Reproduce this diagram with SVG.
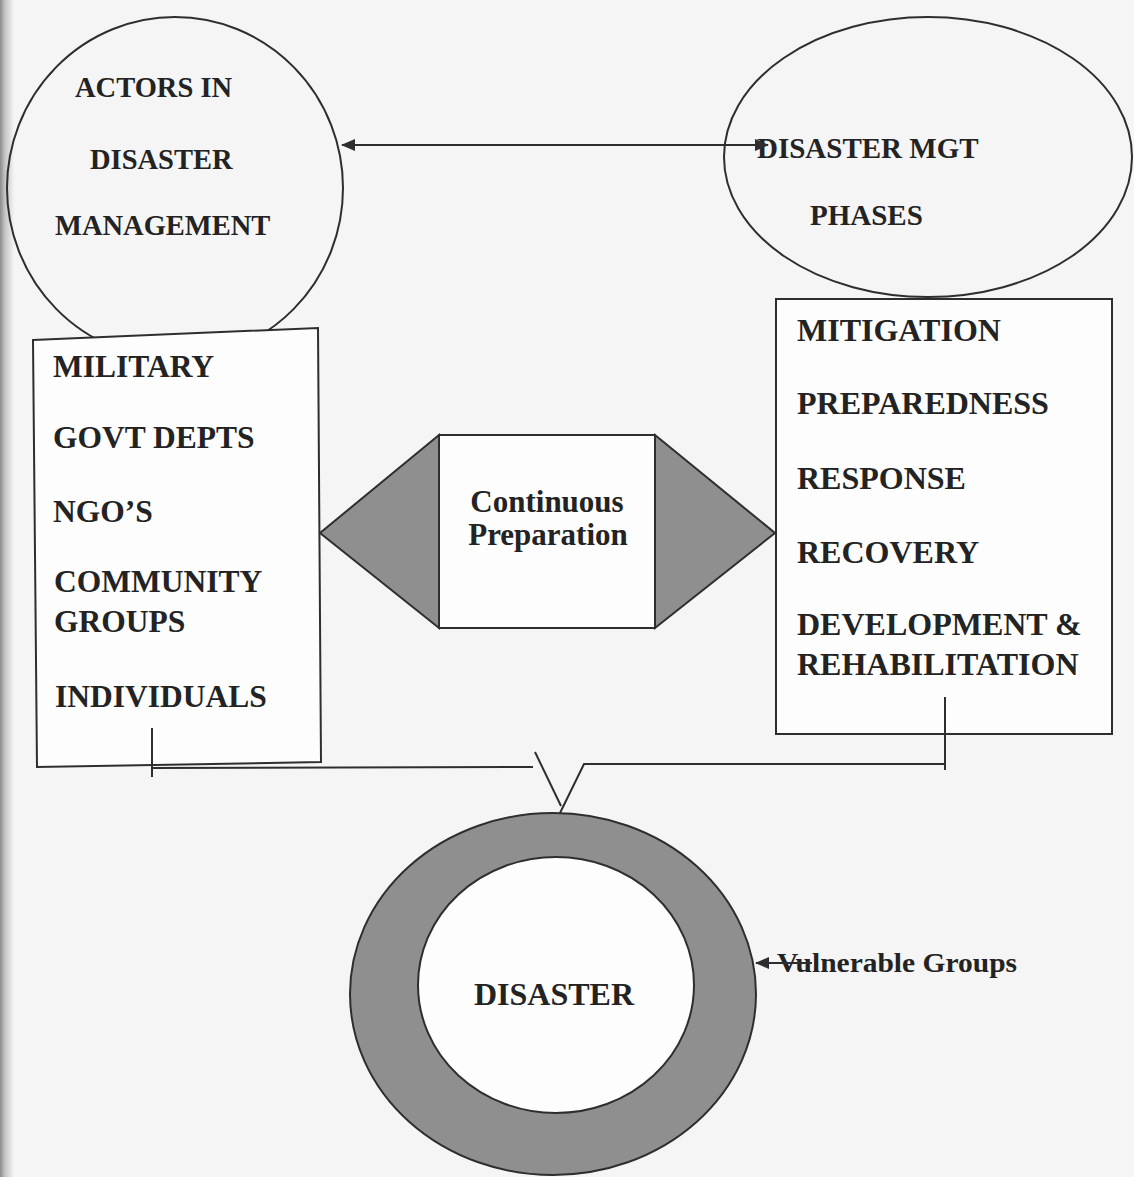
<svg xmlns="http://www.w3.org/2000/svg" width="1134" height="1177" viewBox="0 0 1134 1177">
<style>
.ln{fill:none;stroke:#2e2e2e;stroke-width:2}
.sh{fill:#8f8f8f;stroke:#2e2e2e;stroke-width:2}
.wh{fill:#fdfdfd;stroke:#2e2e2e;stroke-width:2}
.t{font-family:"Liberation Serif","Times New Roman",serif;font-weight:bold;fill:#232323}
</style>
<defs>
<linearGradient id="edge" x1="0" y1="0" x2="1" y2="0">
<stop offset="0" stop-color="#8a8a8a"/>
<stop offset="0.35" stop-color="#c4c4c4"/>
<stop offset="1" stop-color="#f4f4f4"/>
</linearGradient>
<marker id="ah" viewBox="0 0 14 12" refX="13" refY="6" markerWidth="14" markerHeight="12" markerUnits="userSpaceOnUse" orient="auto-start-reverse">
<path d="M0,0 L14,6 L0,12 Z" fill="#2e2e2e"/>
</marker>
</defs>
<rect width="1134" height="1177" fill="#f5f5f5"/>
<rect width="14" height="1177" fill="url(#edge)"/>

<g id="actors">
<ellipse cx="175" cy="188" rx="168" ry="171" class="ln"/>
<text class="t" font-size="28.5" x="75" y="97">ACTORS IN</text>
<text class="t" font-size="28.5" x="90" y="169">DISASTER</text>
<text class="t" font-size="28.5" x="55" y="235">MANAGEMENT</text>
</g>

<g id="actors-list">
<polygon points="33,340 318,328 321,762 37,767" class="wh"/>
<text class="t" font-size="31.5" x="53" y="377">MILITARY</text>
<text class="t" font-size="31.5" x="53" y="448">GOVT DEPTS</text>
<text class="t" font-size="31.5" x="53" y="522">NGO’S</text>
<text class="t" font-size="31.5" x="54" y="592">COMMUNITY</text>
<text class="t" font-size="31.5" x="54" y="632">GROUPS</text>
<text class="t" font-size="31.5" x="55" y="707">INDIVIDUALS</text>
</g>

<g id="phases">
<ellipse cx="928" cy="157" rx="204" ry="140" class="ln"/>
<text class="t" font-size="29" x="757" y="158">DISASTER MGT</text>
<text class="t" font-size="29" x="810" y="225">PHASES</text>
</g>

<g id="phases-list">
<rect x="776" y="299" width="336" height="435" class="wh"/>
<text class="t" font-size="32" x="797" y="341">MITIGATION</text>
<text class="t" font-size="32" x="797" y="414">PREPAREDNESS</text>
<text class="t" font-size="32" x="797" y="489">RESPONSE</text>
<text class="t" font-size="32" x="797" y="563">RECOVERY</text>
<text class="t" font-size="32" x="797" y="635">DEVELOPMENT &amp;</text>
<text class="t" font-size="32" x="797" y="675">REHABILITATION</text>
</g>

<g id="continuous">
<polygon points="439,435 320,533 439,628" class="sh"/>
<polygon points="655,435 775,533 655,628" class="sh"/>
<rect x="439" y="435" width="216" height="193" class="wh"/>
<text class="t" font-size="31" x="547" y="512" text-anchor="middle">Continuous</text>
<text class="t" font-size="31" x="548" y="545" text-anchor="middle">Preparation</text>
</g>

<g id="disaster">
<ellipse cx="553" cy="994" rx="203" ry="181" class="sh"/>
<ellipse cx="556" cy="985" rx="138" ry="128" class="wh"/>
<text class="t" font-size="32" x="474" y="1005">DISASTER</text>
</g>

<g id="vulnerable">
<text class="t" font-size="28" x="777" y="972" textLength="240" lengthAdjust="spacingAndGlyphs">Vulnerable Groups</text>
</g>

<g id="connectors">
<line x1="342" y1="145" x2="768" y2="145" class="ln" marker-start="url(#ah)" marker-end="url(#ah)"/>
<line x1="812" y1="963" x2="756" y2="963" class="ln" marker-end="url(#ah)"/>
<line x1="152" y1="728" x2="152" y2="777" class="ln"/>
<line x1="945" y1="697" x2="945" y2="770" class="ln"/>
<line x1="152" y1="768" x2="533" y2="767" class="ln"/>
<line x1="535" y1="752" x2="561" y2="806" class="ln"/>
<polyline points="945,764 584,764 560,813" class="ln"/>
</g>
</svg>
